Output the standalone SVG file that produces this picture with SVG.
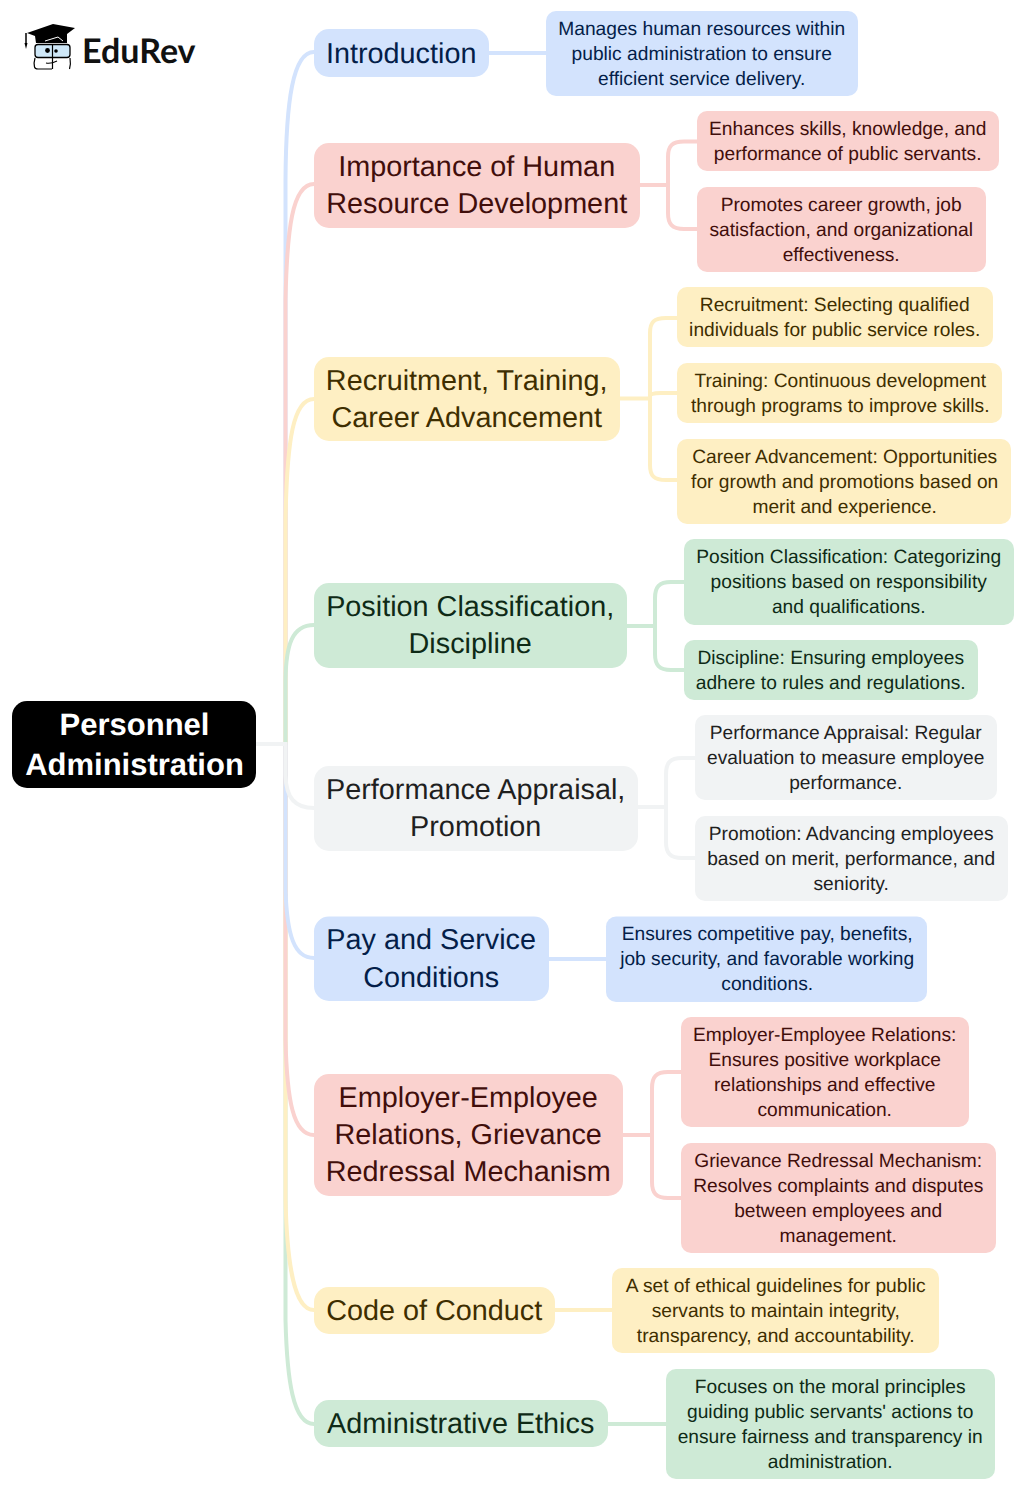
<svg xmlns="http://www.w3.org/2000/svg" width="1024" height="1489" viewBox="0 0 1024 1489">
<style>
text{font-family:"Liberation Sans",Arial,sans-serif;text-anchor:middle;text-rendering:geometricPrecision}
.l{font-size:28.8px;transform:translate(-.3px,-.5px)}.s{font-size:19.2px;transform:translate(-.3px,-.3px)}
.c{fill:none;stroke-width:4;stroke-linecap:round}
.blue rect{fill:#d3e3fd}.blue text{fill:#041e49}
.red rect{fill:#fad2cf}.red text{fill:#410e0b}
.yel rect{fill:#feefc3}.yel text{fill:#3e2e00}
.grn rect{fill:#ceead6}.grn text{fill:#0e2a16}
.gry rect{fill:#f1f3f4}.gry text{fill:#1f1f1f}
.cb{stroke:#d3e3fd}.cr{stroke:#fad2cf}.cy{stroke:#feefc3}.cg{stroke:#ceead6}.cn{stroke:#f1f3f4}
</style>
<rect width="1024" height="1489" fill="#fff"/>
<g id="connectors">
<path class="c cb" d="M285.500 744V180C286 100 293 52 314 52"/>
<path class="c cr" d="M285.500 744V300C287 230 292 184 314 184"/>
<path class="c cy" d="M285.500 744V520C287 440 293 399 314 399"/>
<path class="c cg" d="M285.500 744V680C286 645 292 625 314 625"/>
<path class="c cg" d="M285.500 744V1320C287 1380 293 1424 314 1424"/>
<path class="c cy" d="M285.500 744V1200C287 1260 293 1310 314 1310"/>
<path class="c cr" d="M285.500 744V1040C287 1100 293 1135 314 1135"/>
<path class="c cb" d="M285.500 744V890C287 935 294 958 314 958"/>
<path class="c cn" d="M256 744H285.500V775C286 798 295 808 314 808"/>
<path class="c cb" d="M489 53H546"/>
<path class="c cr" d="M640 185H668M697 141.500H684C672 141.500 668 146 668 157V213C668 224 672 229 684 229H697"/>
<path class="c cy" d="M620 398.500H650M677 318H666C654 318 650 322 650 333V465C650 476 654 480 666 480H677M650 396C650 394 653 393 661 393H677"/>
<path class="c cg" d="M627 626H655M684 582H671C659 582 655 587 655 598V654C655 665 659 670 671 670H684"/>
<path class="c cn" d="M638 807H666M695 758H682C670 758 666 763 666 774V842C666 853 670 858 682 858H695"/>
<path class="c cb" d="M549 959H606"/>
<path class="c cr" d="M623 1135H652M681 1072H668C656 1072 652 1077 652 1088V1182C652 1193 656 1198 668 1198H681"/>
<path class="c cy" d="M555 1310H612"/>
<path class="c cg" d="M608 1424H666"/>
</g>
<g id="logo">
<path d="M27 33L53 24L75 28L67 34V43H36L35 36Z" fill="#000"/>
<path d="M26 33V44" stroke="#000" stroke-width="1.500" fill="none"/>
<path d="M24.500 43H27.500L26 49Z" fill="#000"/>
<path d="M45 41L58 37L63 41" stroke="#fff" stroke-width="1" fill="none"/>
<rect x="35" y="44.500" width="35" height="13" rx="3" fill="#cfe8f8" stroke="#000" stroke-width="1.300"/>
<path d="M52.500 44V69" stroke="#000" stroke-width="1.200"/>
<circle cx="47.500" cy="50.500" r="2.400" fill="#000"/>
<circle cx="56" cy="51" r="1.800" fill="#000"/>
<path d="M35 58Q33.500 63 34.500 67Q35 69 38 69H52M70 58Q71 64 69.500 69M46 63Q51 64 57 61" fill="none" stroke="#000" stroke-width="1.200"/>
<text x="82" y="62.500" style="font-family:Lato,sans-serif;font-weight:700;font-size:34px;text-anchor:start;fill:#111">EduRev</text>
</g>
<g id="root"><rect x="12" y="701" width="244" height="87" rx="15" fill="#000"/><text x="134.500" y="735" fill="#fff" font-weight="700" font-size="31">Personnel</text><text x="134.500" y="775" fill="#fff" font-weight="700" font-size="31">Administration</text></g>

<g id="n1" class="blue"><rect x="314" y="29" width="175" height="48" rx="15"/><text class="l" x="401.500" y="63">Introduction</text></g>
<g id="n1a" class="blue"><rect x="546" y="11" width="312" height="85" rx="10"/><text class="s" x="702" y="35">Manages human resources within</text><text class="s" x="702" y="60">public administration to ensure</text><text class="s" x="702" y="85">efficient service delivery.</text></g>

<g id="n2" class="red"><rect x="314" y="143" width="326" height="85" rx="15"/><text class="l" x="477" y="176">Importance of Human</text><text class="l" x="477" y="213.500">Resource Development</text></g>
<g id="n2a" class="red"><rect x="697" y="111" width="302" height="60" rx="10"/><text class="s" x="848" y="135">Enhances skills, knowledge, and</text><text class="s" x="848" y="160">performance of public servants.</text></g>
<g id="n2b" class="red"><rect x="697" y="187" width="289" height="85" rx="10"/><text class="s" x="841.500" y="211">Promotes career growth, job</text><text class="s" x="841.500" y="236">satisfaction, and organizational</text><text class="s" x="841.500" y="261">effectiveness.</text></g>

<g id="n3" class="yel"><rect x="314" y="357" width="306" height="84" rx="15"/><text class="l" x="467" y="390">Recruitment, Training,</text><text class="l" x="467" y="427.500">Career Advancement</text></g>
<g id="n3a" class="yel"><rect x="677" y="287" width="316" height="60" rx="10"/><text class="s" x="835" y="311">Recruitment: Selecting qualified</text><text class="s" x="835" y="336">individuals for public service roles.</text></g>
<g id="n3b" class="yel"><rect x="677" y="363" width="325" height="60" rx="10"/><text class="s" x="840.500" y="387">Training: Continuous development</text><text class="s" x="840.500" y="412">through programs to improve skills.</text></g>
<g id="n3c" class="yel"><rect x="677" y="439" width="334" height="85" rx="10"/><text class="s" x="845" y="463">Career Advancement: Opportunities</text><text class="s" x="845" y="488">for growth and promotions based on</text><text class="s" x="845" y="513">merit and experience.</text></g>

<g id="n4" class="grn"><rect x="314" y="583" width="313" height="85" rx="15"/><text class="l" x="470.500" y="616">Position Classification,</text><text class="l" x="470.500" y="653.500">Discipline</text></g>
<g id="n4a" class="grn"><rect x="684" y="539" width="330" height="86" rx="10"/><text class="s" x="849" y="563">Position Classification: Categorizing</text><text class="s" x="849" y="588">positions based on responsibility</text><text class="s" x="849" y="613">and qualifications.</text></g>
<g id="n4b" class="grn"><rect x="684" y="640" width="294" height="60" rx="10"/><text class="s" x="831" y="664">Discipline: Ensuring employees</text><text class="s" x="831" y="689">adhere to rules and regulations.</text></g>

<g id="n5" class="gry"><rect x="314" y="766" width="324" height="85" rx="15"/><text class="l" x="476" y="799">Performance Appraisal,</text><text class="l" x="476" y="836.500">Promotion</text></g>
<g id="n5a" class="gry"><rect x="695" y="715" width="302" height="85" rx="10"/><text class="s" x="846" y="739">Performance Appraisal: Regular</text><text class="s" x="846" y="764">evaluation to measure employee</text><text class="s" x="846" y="789">performance.</text></g>
<g id="n5b" class="gry"><rect x="695" y="816" width="313" height="85" rx="10"/><text class="s" x="851.500" y="840">Promotion: Advancing employees</text><text class="s" x="851.500" y="865">based on merit, performance, and</text><text class="s" x="851.500" y="890">seniority.</text></g>

<g id="n6" class="blue"><rect x="314" y="916.500" width="235" height="84.500" rx="15"/><text class="l" x="431.500" y="949.500">Pay and Service</text><text class="l" x="431.500" y="987">Conditions</text></g>
<g id="n6a" class="blue"><rect x="606" y="916.500" width="321" height="85.500" rx="10"/><text class="s" x="767.500" y="940.300">Ensures competitive pay, benefits,</text><text class="s" x="767.500" y="965.300">job security, and favorable working</text><text class="s" x="767.500" y="990.300">conditions.</text></g>

<g id="n7" class="red"><rect x="314" y="1074" width="309" height="122" rx="15"/><text class="l" x="468.500" y="1107">Employer-Employee</text><text class="l" x="468.500" y="1144">Relations, Grievance</text><text class="l" x="468.500" y="1181.500">Redressal Mechanism</text></g>
<g id="n7a" class="red"><rect x="681" y="1017" width="288" height="110" rx="10"/><text class="s" x="825" y="1041">Employer-Employee Relations:</text><text class="s" x="825" y="1066">Ensures positive workplace</text><text class="s" x="825" y="1091">relationships and effective</text><text class="s" x="825" y="1116">communication.</text></g>
<g id="n7b" class="red"><rect x="681" y="1143" width="315" height="110" rx="10"/><text class="s" x="838.500" y="1167">Grievance Redressal Mechanism:</text><text class="s" x="838.500" y="1192">Resolves complaints and disputes</text><text class="s" x="838.500" y="1217">between employees and</text><text class="s" x="838.500" y="1242">management.</text></g>

<g id="n8" class="yel"><rect x="314" y="1287" width="241" height="47" rx="15"/><text class="l" x="434.500" y="1320">Code of Conduct</text></g>
<g id="n8a" class="yel"><rect x="612" y="1268" width="327" height="85" rx="10"/><text class="s" x="776" y="1292">A set of ethical guidelines for public</text><text class="s" x="776" y="1317">servants to maintain integrity,</text><text class="s" x="776" y="1342">transparency, and accountability.</text></g>

<g id="n9" class="grn"><rect x="314" y="1400" width="294" height="47" rx="15"/><text class="l" x="461" y="1433">Administrative Ethics</text></g>
<g id="n9a" class="grn"><rect x="666" y="1369" width="329" height="110" rx="10"/><text class="s" x="830.500" y="1393">Focuses on the moral principles</text><text class="s" x="830.500" y="1418">guiding public servants' actions to</text><text class="s" x="830.500" y="1443">ensure fairness and transparency in</text><text class="s" x="830.500" y="1468">administration.</text></g>
</svg>
